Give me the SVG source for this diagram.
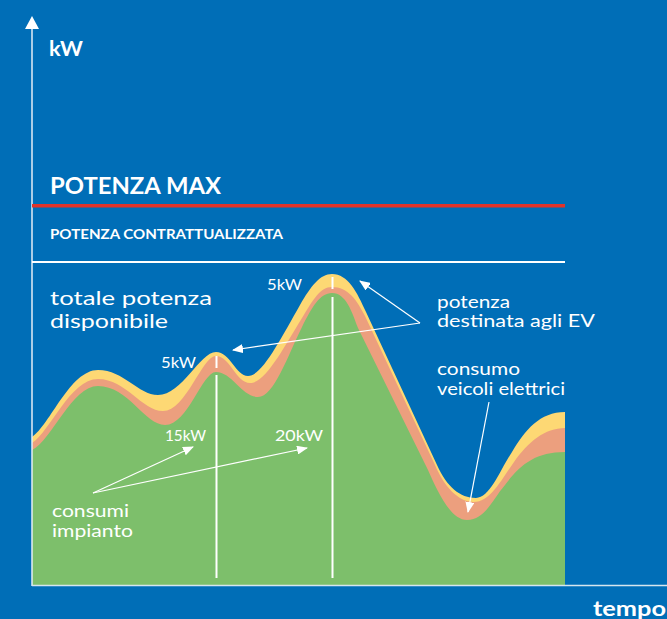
<svg xmlns="http://www.w3.org/2000/svg" width="667" height="619" viewBox="0 0 667 619">
<style>
.t{fill:#fff;font-family:"Lato","Noto Sans","Liberation Sans",sans-serif}
.b{font-weight:700}
.lbl{font-size:18px}
.num{font-size:16px}
.arr{stroke:#fff;stroke-width:1.2;fill:none;marker-end:url(#ah)}
.vl{stroke:#fff;stroke-width:2}
</style>
<defs>
<marker id="ah" markerUnits="userSpaceOnUse" markerWidth="11" markerHeight="9" refX="10" refY="4.5" orient="auto">
<path d="M0,0 L11,4.5 L0,9 Z" fill="#fff"/>
</marker>
</defs>
<rect width="667" height="619" fill="#006EB7"/>

<g id="chart">
<path id="yellow" fill="#FDD874" d="M32,437 C50,425 70,370 98,370 C124,370 138,395 158,395 C182,395 200,352 216,352 C230,352 236,376 248,376 C262,376 280,340 300,305 C311,286 320,274 332,274 C348,274 357,292 366,312 L437,465 C447,487 460,498 476,498 C490,498 500,470 512,452 C525,430 540,412 565,412 L565,585 L32,585 Z"/>
<path id="salmon" fill="#EC9F7E" d="M32,443 C50,432 70,379 98,379 C126,379 142,411 163,411 C186,411 202,356 216,356 C230,356 236,383 250,383 C266,383 285,345 302,318 C313,300 320,287 332,287 C348,287 357,300 365,316 L435,465 C444,486 458,502 474,502 C490,502 500,482 514,462 C528,442 545,428 565,428 L565,585 L32,585 Z"/>
<path id="green" fill="#7DBF6B" d="M32,450 C52,440 72,386 98,386 C128,386 145,425 165,425 C188,425 202,372 216,372 C232,372 242,397 258,397 C274,397 288,355 302,327 C312,307 320,293 332,293 C346,293 352,312 358,328 L428,470 C437,490 450,520 467,520 C485,520 492,500 505,485 C520,465 535,452 565,452 L565,585 L32,585 Z"/>
</g>

<g id="markers">
<line class="vl" x1="216.5" y1="356" x2="216.5" y2="368"/>
<line class="vl" x1="216.5" y1="375" x2="216.5" y2="578"/>
<line class="vl" x1="332.5" y1="277" x2="332.5" y2="289"/>
<line class="vl" x1="332.5" y1="297" x2="332.5" y2="578"/>
</g>

<g id="axes">
<line x1="32" y1="28" x2="32" y2="586" stroke="#E6EEF6" stroke-width="1.5"/>
<path d="M32,16 L25,29 L39,29 Z" fill="#fff"/>
<line x1="32" y1="585.5" x2="667" y2="585.5" stroke="#D6E6EE" stroke-width="1.5"/>
</g>

<g id="limits">
<line x1="32" y1="205.7" x2="565" y2="205.7" stroke="#E2332A" stroke-width="3.4"/>
<line x1="32" y1="262" x2="565" y2="262" stroke="#fff" stroke-width="2"/>
</g>

<g id="connectors">
<line class="arr" x1="420" y1="323" x2="360" y2="281"/>
<line class="arr" x1="420" y1="323" x2="233" y2="350"/>
<line class="arr" x1="489" y1="402" x2="468" y2="512"/>
<line class="arr" x1="93" y1="493" x2="193" y2="447"/>
<line class="arr" x1="93" y1="493" x2="307" y2="448"/>
</g>

<g id="labels">
<text class="t b" x="49" y="56" font-size="20" textLength="34" lengthAdjust="spacingAndGlyphs">kW</text>
<text class="t b" x="50" y="194" font-size="22" textLength="171" lengthAdjust="spacingAndGlyphs">POTENZA MAX</text>
<text class="t b" x="50" y="239" font-size="13.5" textLength="233" lengthAdjust="spacingAndGlyphs">POTENZA CONTRATTUALIZZATA</text>
<text class="t" x="50" y="305" font-size="20" textLength="162" lengthAdjust="spacingAndGlyphs">totale potenza</text>
<text class="t" x="50" y="328" font-size="20" textLength="118" lengthAdjust="spacingAndGlyphs">disponibile</text>
<text class="t num" x="161" y="368" textLength="35" lengthAdjust="spacingAndGlyphs">5kW</text>
<text class="t num" x="267" y="290" textLength="35" lengthAdjust="spacingAndGlyphs">5kW</text>
<text class="t num" x="165" y="441" textLength="41" lengthAdjust="spacingAndGlyphs">15kW</text>
<text class="t num" x="275" y="441" textLength="48" lengthAdjust="spacingAndGlyphs">20kW</text>
<text class="t lbl" x="437" y="308" textLength="73" lengthAdjust="spacingAndGlyphs">potenza</text>
<text class="t lbl" x="437" y="327" textLength="158" lengthAdjust="spacingAndGlyphs">destinata agli EV</text>
<text class="t lbl" x="437" y="375" textLength="83" lengthAdjust="spacingAndGlyphs">consumo</text>
<text class="t lbl" x="437" y="395" textLength="128" lengthAdjust="spacingAndGlyphs">veicoli elettrici</text>
<text class="t lbl" x="52" y="517" textLength="77" lengthAdjust="spacingAndGlyphs">consumi</text>
<text class="t lbl" x="52" y="537" textLength="81" lengthAdjust="spacingAndGlyphs">impianto</text>
<text class="t b" x="593" y="616" font-size="20" textLength="73" lengthAdjust="spacingAndGlyphs">tempo</text>
</g>
</svg>
